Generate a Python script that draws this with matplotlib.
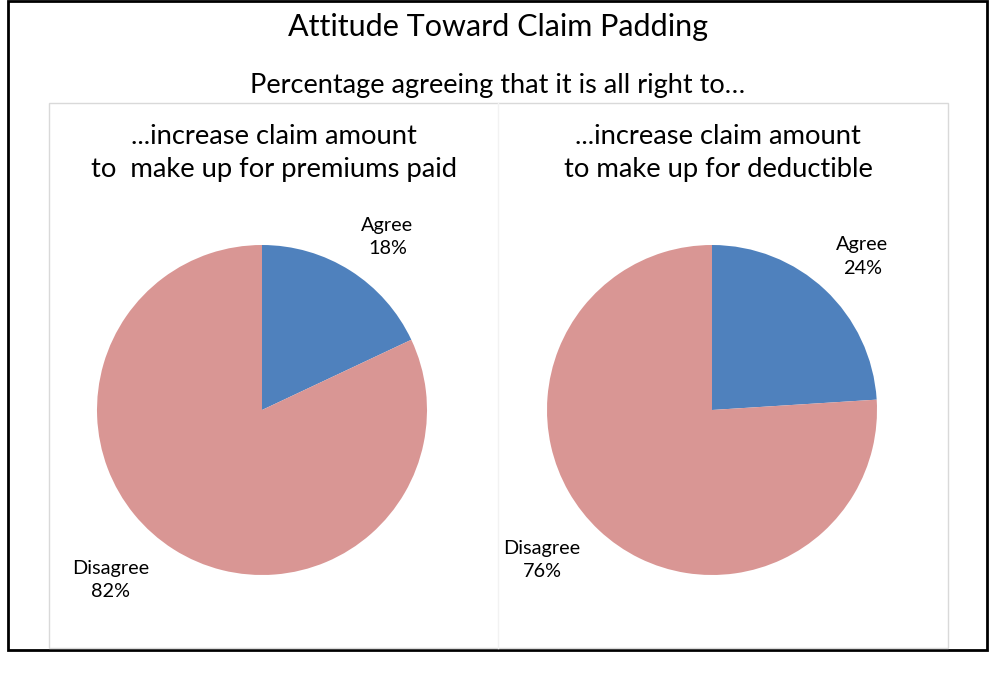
import matplotlib.pyplot as plt
from matplotlib.patches import Rectangle
from matplotlib.lines import Line2D

plt.rcParams['font.family'] = ['Lato', 'DejaVu Sans']

title = 'Attitude Toward Claim Padding'
subtitle = 'Percentage agreeing that it is all right to\u2026'
panel_titles = ['...increase claim amount\nto  make up for premiums paid',
                '...increase claim amount\nto make up for deductible']
categories = ['Agree', 'Disagree']
values_premiums = [18, 82]
values_deductible = [24, 76]
colors = ['#4F81BD', '#D99694']

W, H = 992, 677
fig = plt.figure(figsize=(W / 100, H / 100), dpi=100)


def px(x, y):
    # figure pixel (top-left origin) -> figure fraction
    return x / W, 1 - y / H


# outer black frame
fig.patches.append(Rectangle(px(8, 650), 979 / W, 649 / H, transform=fig.transFigure,
                             fill=False, edgecolor='black', linewidth=2))
# inner plot area
fig.patches.append(Rectangle(px(49, 648), 899 / W, 545 / H, transform=fig.transFigure,
                             fill=False, edgecolor='#d9d9d9', linewidth=1))
fig.lines.append(Line2D([498 / W, 498 / W], [1 - 103 / H, 1 - 648 / H],
                        transform=fig.transFigure, color='#f2f2f2', linewidth=1))

fig.text(*px(498, 27), title, ha='center', va='center', fontsize=22)
fig.text(*px(498, 86), subtitle, ha='center', va='center', fontsize=19.5)

# label positions in pie data units (radius = 1)
label_pos = [[(0.76, 1.05), (-0.92, -1.03)],
             [(0.91, 0.93), (-1.03, -0.91)]]
centers = [262, 712]
radius = 165

for i, vals in enumerate([values_premiums, values_deductible]):
    cx = centers[i]
    x0, y0 = px(cx - radius, 410 + radius)
    ax = fig.add_axes([x0, y0, 2 * radius / W, 2 * radius / H])
    ax.pie(vals, colors=colors, startangle=90, counterclock=False,
           wedgeprops=dict(linewidth=0))
    ax.set_xlim(-1, 1)
    ax.set_ylim(-1, 1)
    ax.set_aspect('equal')
    ax.axis('off')
    for j, cat in enumerate(categories):
        lx, ly = label_pos[i][j]
        ax.text(lx, ly, f'{cat}\n{vals[j]}%', ha='center', va='center',
                fontsize=14.3, linespacing=1.45, clip_on=False)
    fig.text(*px(cx + 12 if i == 0 else cx + 6, 153), panel_titles[i], ha='center',
             va='center', fontsize=19.7, linespacing=1.45)

fig.savefig('out.png', dpi=100)
